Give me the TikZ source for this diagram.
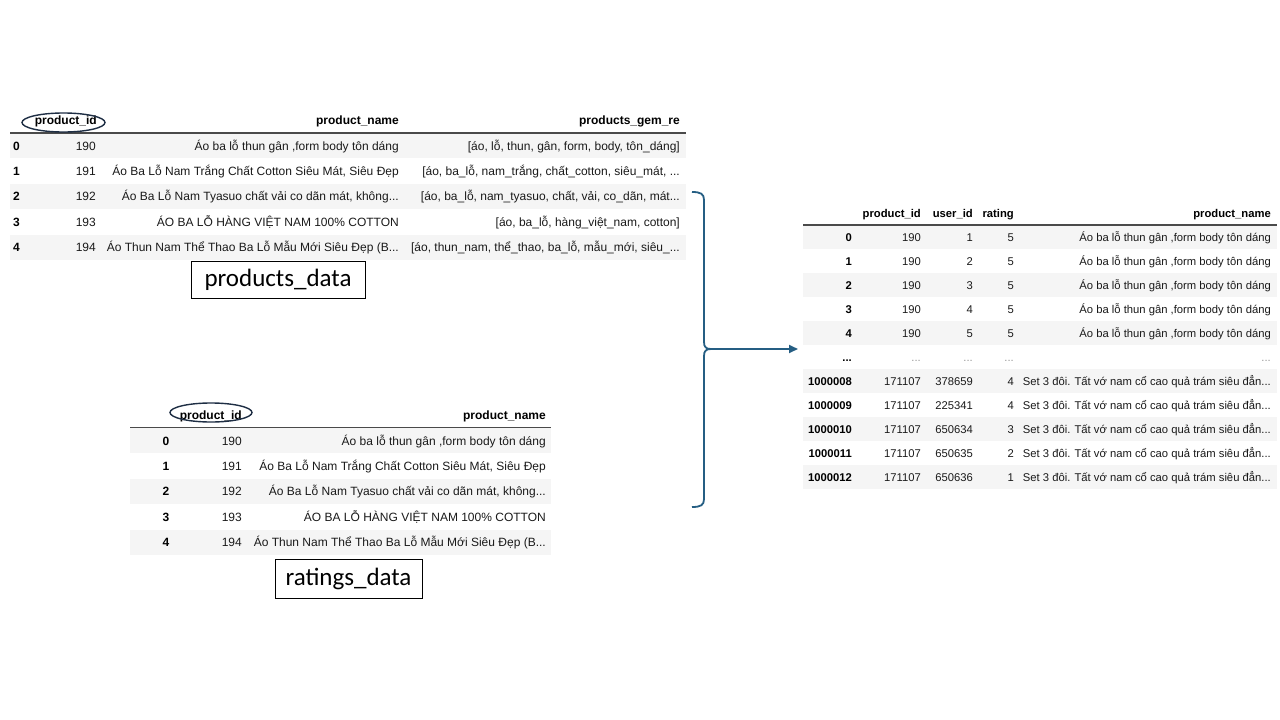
\documentclass[tikz,border=0pt]{standalone}
\usepackage{fontspec}
\setmainfont{Liberation Sans}
\newfontfamily\labelfont{Carlito}
\usetikzlibrary{arrows.meta,shapes.geometric}
\definecolor{rowgray}{HTML}{F5F5F5}
\definecolor{bracecol}{RGB}{37,94,131}
\definecolor{hdrline}{HTML}{4A4A4A}
\definecolor{ellcol}{HTML}{1E2E44}
\definecolor{celltext}{HTML}{1A1A1A}
\begin{document}
\begin{tikzpicture}[x=1pt,y=-1pt,
  cellA/.style={inner sep=0pt, text height=8.6pt, text depth=0pt, text=celltext, font=\fontsize{12}{14}\selectfont, anchor=east},
  hdrA/.style={cellA, text=black, font=\fontsize{12}{14}\selectfont\bfseries},
  cellB/.style={inner sep=0pt, text height=8.1pt, text depth=0pt, text=celltext, font=\fontsize{11.25}{13}\selectfont, anchor=east},
  hdrB/.style={cellB, text=black, font=\fontsize{11.25}{13}\selectfont\bfseries},
  dots/.style={cellB, text=black!40},
  rowbg/.style={fill=rowgray, draw=none},
  hline/.style={draw=hdrline, line width=1.2pt},
  idring/.style={draw=ellcol, line width=1.4pt, ellipse, inner sep=0pt},
  labelbox/.style={draw=black, line width=0.9pt, inner sep=0pt, font=\labelfont\fontsize{25}{28}\selectfont},
  bracepath/.style={draw=bracecol, line width=1.8pt},
]
\useasboundingbox (0,0) rectangle (1280,720);
\fill[white] (0,0) rectangle (1280,720);

% ---------------- products_data (top table) ----------------
\foreach \i in {0,2,4}{\fill[rowbg] (10,{133+25.4*\i}) rectangle (686,{133+25.4*(\i+1)});}
\node[hdrA] (p-h-id) at (97,120.5) {product\_id};
\node[hdrA] (p-h-name) at (399,120.5) {product\_name};
\node[hdrA] (p-h-gem) at (680,120.5) {products\_gem\_re};
\draw[hline] (10,133) -- (686,133);
\node[idring, minimum width=83pt, minimum height=19pt] (p-ring) at (63.5,122.5) {};

\node[hdrA, anchor=west] (p-i0) at (13,145.7) {0};
\node[hdrA, anchor=west] (p-i1) at (13,171.1) {1};
\node[hdrA, anchor=west] (p-i2) at (13,196.5) {2};
\node[hdrA, anchor=west] (p-i3) at (13,221.9) {3};
\node[hdrA, anchor=west] (p-i4) at (13,247.3) {4};

\node[cellA] (p-id0) at (96,145.7) {190};
\node[cellA] (p-id1) at (96,171.1) {191};
\node[cellA] (p-id2) at (96,196.5) {192};
\node[cellA] (p-id3) at (96,221.9) {193};
\node[cellA] (p-id4) at (96,247.3) {194};

\node[cellA] (p-n0) at (399,145.7) {Áo ba lỗ thun gân ,form body tôn dáng};
\node[cellA] (p-n1) at (399,171.1) {Áo Ba Lỗ Nam Trắng Chất Cotton Siêu Mát, Siêu Đẹp};
\node[cellA] (p-n2) at (399,196.5) {Áo Ba Lỗ Nam Tyasuo chất vải co dãn mát, không...};
\node[cellA] (p-n3) at (399,221.9) {ÁO BA LỖ HÀNG VIỆT NAM 100\% COTTON};
\node[cellA] (p-n4) at (399,247.3) {Áo Thun Nam Thể Thao Ba Lỗ Mẫu Mới Siêu Đẹp (B...};

\node[cellA] (p-g0) at (680,145.7) {[áo, lỗ, thun, gân, form, body, tôn\_dáng]};
\node[cellA] (p-g1) at (680,171.1) {[áo, ba\_lỗ, nam\_trắng, chất\_cotton, siêu\_mát, ...};
\node[cellA] (p-g2) at (680,196.5) {[áo, ba\_lỗ, nam\_tyasuo, chất, vải, co\_dãn, mát...};
\node[cellA] (p-g3) at (680,221.9) {[áo, ba\_lỗ, hàng\_việt\_nam, cotton]};
\node[cellA] (p-g4) at (680,247.3) {[áo, thun\_nam, thể\_thao, ba\_lỗ, mẫu\_mới, siêu\_...};

\node[labelbox, minimum width=174pt, minimum height=37pt] (plabel) at (278,279.5) {products\_data};

% ---------------- ratings_data (bottom table) ----------------
\foreach \i in {0,2,4}{\fill[rowbg] (130,{428+25.4*\i}) rectangle (551,{428+25.4*(\i+1)});}
\node[hdrA] (r-h-id) at (242,415) {product\_id};
\node[hdrA] (r-h-name) at (546,415) {product\_name};
\draw[hline] (130,427.5) -- (551,427.5);
\node[idring, minimum width=82pt, minimum height=19pt] (r-ring) at (211,412.5) {};

\node[hdrA, anchor=center] (r-i0) at (166,440.7) {0};
\node[hdrA, anchor=center] (r-i1) at (166,466.1) {1};
\node[hdrA, anchor=center] (r-i2) at (166,491.5) {2};
\node[hdrA, anchor=center] (r-i3) at (166,516.9) {3};
\node[hdrA, anchor=center] (r-i4) at (166,542.3) {4};

\node[cellA] (r-id0) at (242,440.7) {190};
\node[cellA] (r-id1) at (242,466.1) {191};
\node[cellA] (r-id2) at (242,491.5) {192};
\node[cellA] (r-id3) at (242,516.9) {193};
\node[cellA] (r-id4) at (242,542.3) {194};

\node[cellA] (r-n0) at (546,440.7) {Áo ba lỗ thun gân ,form body tôn dáng};
\node[cellA] (r-n1) at (546,466.1) {Áo Ba Lỗ Nam Trắng Chất Cotton Siêu Mát, Siêu Đẹp};
\node[cellA] (r-n2) at (546,491.5) {Áo Ba Lỗ Nam Tyasuo chất vải co dãn mát, không...};
\node[cellA] (r-n3) at (546,516.9) {ÁO BA LỖ HÀNG VIỆT NAM 100\% COTTON};
\node[cellA] (r-n4) at (546,542.3) {Áo Thun Nam Thể Thao Ba Lỗ Mẫu Mới Siêu Đẹp (B...};

\node[labelbox, minimum width=147pt, minimum height=39pt] (rlabel) at (348.5,578.5) {ratings\_data};

% ---------------- merged table (right) ----------------
\foreach \i in {0,2,4,6,8,10}{\fill[rowbg] (803,{225+24*\i}) rectangle (1277,{225+24*(\i+1)});}
\node[hdrB] (m-h-id) at (921,213) {product\_id};
\node[hdrB] (m-h-user) at (973,213) {user\_id};
\node[hdrB] (m-h-rating) at (1014,213) {rating};
\node[hdrB] (m-h-name) at (1271,213) {product\_name};
\draw[hline] (803,225) -- (1277,225);

\foreach \r/\idx/\pid/\uid/\rat in {0/0/190/1/5, 1/1/190/2/5, 2/2/190/3/5, 3/3/190/4/5, 4/4/190/5/5}{
  \node[hdrB] (m-i\r) at (852,{237+24*\r}) {\idx};
  \node[cellB] (m-p\r) at (921,{237+24*\r}) {\pid};
  \node[cellB] (m-u\r) at (973,{237+24*\r}) {\uid};
  \node[cellB] (m-r\r) at (1014,{237+24*\r}) {\rat};
  \node[cellB] (m-n\r) at (1271,{237+24*\r}) {Áo ba lỗ thun gân ,form body tôn dáng};
}
\node[hdrB] (m-i5) at (852,357) {...};
\node[dots] (m-p5) at (921,357) {...};
\node[dots] (m-u5) at (973,357) {...};
\node[dots] (m-r5) at (1014,357) {...};
\node[dots] (m-n5) at (1271,357) {...};
\foreach \r/\idx/\uid/\rat in {6/1000008/378659/4, 7/1000009/225341/4, 8/1000010/650634/3, 9/1000011/650635/2, 10/1000012/650636/1}{
  \node[hdrB] (m-i\r) at (852,{237+24*\r}) {\idx};
  \node[cellB] (m-p\r) at (921,{237+24*\r}) {171107};
  \node[cellB] (m-u\r) at (973,{237+24*\r}) {\uid};
  \node[cellB] (m-r\r) at (1014,{237+24*\r}) {\rat};
  \node[cellB] (m-n\r) at (1271,{237+24*\r}) {Set 3 đôi. Tất vớ nam cổ cao quả trám siêu đẳn...};
}

% ---------------- brace and arrow ----------------
\coordinate (btop) at (692,192);
\coordinate (bbot) at (692,507);
\coordinate (btip) at (711,349);
\coordinate (mergein) at (798,349);
\draw[bracepath] (btop) .. controls (701,192) and (704,194) .. (704,200) -- (704,342)
  .. controls (704,347) and (706,349) .. (btip)
  .. controls (706,349) and (704,351) .. (704,356) -- (704,499)
  .. controls (704,505) and (701,507) .. (bbot);
\draw[bracepath, -{Triangle[length=9pt,width=8pt]}] (btip) -- (mergein);
\end{tikzpicture}
\end{document}
